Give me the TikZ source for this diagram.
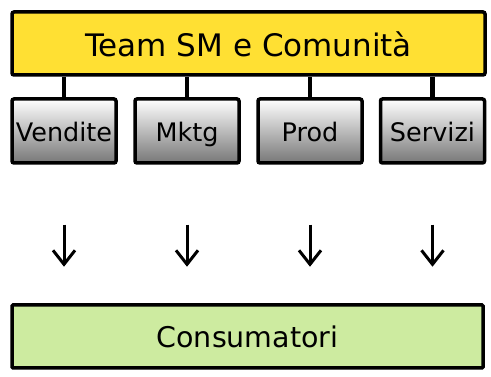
\documentclass[tikz,border=0pt]{standalone}
\usepackage{fontspec}
\setmainfont{DejaVu Sans}
\usepackage{tikz}
\usetikzlibrary{positioning, arrows.meta, calc}
\definecolor{teamyellow}{HTML}{FFE033}
\definecolor{consgreen}{HTML}{CDEBA0}
\definecolor{deptgray}{HTML}{777777}

\tikzset{
  teambox/.style={draw=black, line width=3.5pt, rounded corners=2pt, fill=teamyellow,
                  minimum width=473pt, minimum height=63pt, inner sep=0pt,
                  text height=27pt, text depth=0pt,
                  font=\fontsize{31}{36}\selectfont},
  deptbox/.style={draw=black, line width=3.5pt, rounded corners=2pt,
                  top color=white, bottom color=deptgray,
                  minimum width=104pt, minimum height=64pt, inner sep=0pt,
                  text height=22pt, text depth=0pt,
                  font=\fontsize{25.5}{30}\selectfont},
  consbox/.style={draw=black, line width=3.5pt, rounded corners=1pt, fill=consgreen,
                  minimum width=471pt, minimum height=63pt, inner sep=0pt,
                  text height=23pt, text depth=0pt,
                  font=\fontsize{28.5}{33}\selectfont},
  link/.style={line width=4.5pt},
  flow/.style={line width=3pt, -{Straight Barb[length=14pt, width=22pt]}}
}

\begin{document}
\begin{tikzpicture}
    \useasboundingbox (0,0) rectangle (491pt,-377pt);

    % team on top, departments underneath
    \node[teambox] (team) at (248.5pt,-43.5pt) {Team SM e Comunità};
    \node[deptbox] (vendite) at (64pt,-131pt) {Vendite};
    \node[deptbox] (mktg)    at (187pt,-131pt) {Mktg};
    \node[deptbox] (prod)    at (310pt,-131pt) {Prod};
    \node[deptbox] (servizi) at (432.5pt,-131pt) {Servizi};

    \node[consbox] (cons) at (247.5pt,-336.5pt) {Consumatori};

    \foreach \d in {vendite, mktg, prod, servizi} {
      \draw[link] (\d.north) -- (\d.north |- team.south);
      \coordinate (\d-from) at ($(\d.south)+(0,-60pt)$);
      \coordinate (\d-to)   at ($(\d.south)+(0,-102pt)$);
      \draw[flow] (\d-from) -- (\d-to);
    }
  \end{tikzpicture}
\end{document}
